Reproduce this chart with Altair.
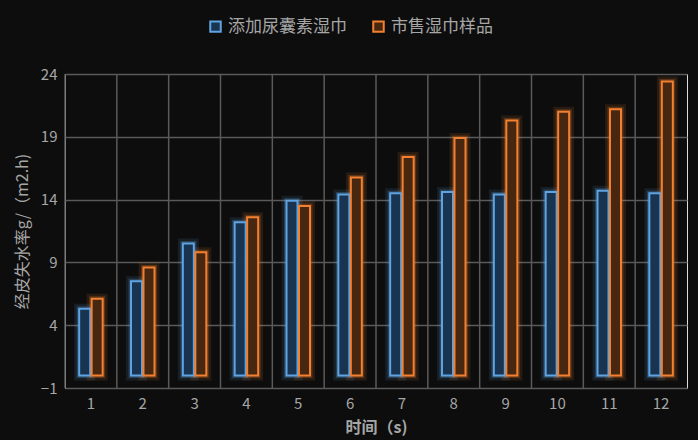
import altair as alt
import pandas as pd

times = [str(i) for i in range(1, 13)]
series_names = ["添加尿囊素湿巾", "市售湿巾样品"]
allantoin = [5.3, 7.5, 10.5, 12.2, 13.9, 14.4, 14.5, 14.6, 14.4, 14.6, 14.7, 14.5]
market = [6.1, 8.6, 9.8, 12.6, 13.5, 15.75, 17.4, 18.9, 20.3, 21.0, 21.2, 23.4]
y_ticks = [-1, 4, 9, 14, 19, 24]

rows = []
for t, a, m in zip(times, allantoin, market):
    rows.append({"time": t, "series": series_names[0], "value": a})
    rows.append({"time": t, "series": series_names[1], "value": m})
df = pd.DataFrame(rows)
grid_df = pd.DataFrame({"time": times})

FONT = "Noto Sans CJK SC"
TXT = "#a6a6a6"
GRID = "#5a5a5a"
BG = "#0d0d0d"

stroke_scale = alt.Scale(domain=series_names, range=["#5fa3e2", "#f28030"])
fill_scale = alt.Scale(domain=series_names, range=["#183450", "#472710"])

legend = alt.Legend(title=None, orient="none", direction="horizontal",
                    legendX=142, legendY=-56, symbolType="square",
                    symbolSize=110, symbolStrokeWidth=2,
                    symbolFillColor=BG, labelFontSize=17,
                    labelColor=TXT, columnPadding=22, labelOffset=4)

x_enc = alt.X("time:N", sort=times,
              scale=alt.Scale(paddingInner=0.2, paddingOuter=0.1),
              axis=alt.Axis(title="时间（s)", labelAngle=0, grid=False, ticks=False,
                            domain=False, labelPadding=8, titlePadding=8,
                            labelFontSize=15, titleFontSize=16, titleFontWeight="bold",
                            labelColor=TXT, titleColor=TXT))
xo = alt.XOffset("series:N", sort=series_names,
                 scale=alt.Scale(paddingInner=0.12, paddingOuter=0.72))
y_enc = alt.Y("value:Q", scale=alt.Scale(domain=[-1, 24], nice=False, zero=False),
              axis=alt.Axis(title="经皮失水率g/（m2.h)", values=y_ticks, grid=True,
                            gridColor=GRID, gridWidth=1.5, ticks=False, domain=False,
                            labelPadding=8, titlePadding=10,
                            labelFontSize=15, titleFontSize=16, titleFontWeight="normal",
                            labelColor=TXT, titleColor=TXT))

stroke_enc = alt.Stroke("series:N", scale=stroke_scale, sort=series_names, legend=legend)

vrules = alt.Chart(grid_df).mark_rule(color=GRID, strokeWidth=1.5).encode(
    x=alt.X("time:N", sort=times, bandPosition=0,
            scale=alt.Scale(paddingInner=0, paddingOuter=0), axis=None)
)

glow = alt.Chart(df).mark_bar(strokeWidth=10, strokeOpacity=0.12, fillOpacity=0).encode(
    x=x_enc, xOffset=xo, y=y_enc, y2=alt.datum(0), stroke=stroke_enc,
)
glow2 = alt.Chart(df).mark_bar(strokeWidth=5, strokeOpacity=0.25, fillOpacity=0).encode(
    x=x_enc, xOffset=xo, y=y_enc, y2=alt.datum(0), stroke=stroke_enc,
)
bars = alt.Chart(df).mark_bar(strokeWidth=2, fillOpacity=1).encode(
    x=x_enc, xOffset=xo, y=y_enc, y2=alt.datum(0), stroke=stroke_enc,
    fill=alt.Fill("series:N", scale=fill_scale, legend=None),
)

bars_layer = alt.layer(glow, glow2, bars)
chart = alt.layer(vrules, bars_layer).resolve_scale(x="independent").properties(
    width=622, height=314,
    autosize=alt.AutoSizeParams(type="none"),
    padding={"left": 65, "top": 74, "right": 11, "bottom": 52},
    background=BG,
).configure_view(stroke=GRID, strokeWidth=1.5).configure(font=FONT)

chart.save("out.html", embed_options={"renderer": "svg", "actions": False})
